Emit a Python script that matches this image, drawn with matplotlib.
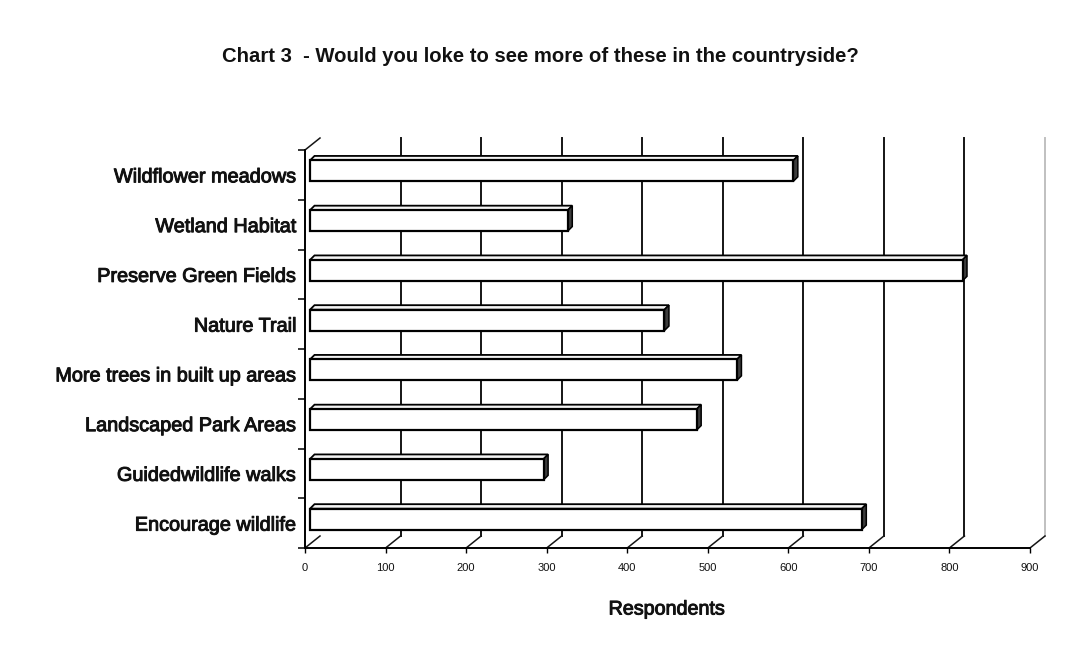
import matplotlib
matplotlib.use("Agg")
import matplotlib.pyplot as plt
import matplotlib.patheffects as pe
from matplotlib.patches import Polygon

plt.rcParams["font.family"] = ["Liberation Sans", "DejaVu Sans"]

# --- data -------------------------------------------------------------
categories = [
    "Wildflower meadows",
    "Wetland Habitat",
    "Preserve Green Fields",
    "Nature Trail",
    "More trees in built up areas",
    "Landscaped Park Areas",
    "Guidedwildlife walks",
    "Encourage wildlife",
]
respondents = [600, 320, 810, 440, 530, 480, 290, 685]
x_ticks = [0, 100, 200, 300, 400, 500, 600, 700, 800, 900]
title = "Chart 3  - Would you loke to see more of these in the countryside?"
x_label = "Respondents"

# --- figure / front plane of the 3-D box ---------------------------------
W, H = 1078, 648
fig = plt.figure(figsize=(W / 100, H / 100), dpi=100)
fig.patch.set_facecolor("white")

left_px, right_px, top_px, bottom_px = 305, 1030, 150, 548
ax = fig.add_axes([left_px / W, 1 - bottom_px / H,
                   (right_px - left_px) / W, (bottom_px - top_px) / H])
n = len(categories)
ax.set_xlim(x_ticks[0], x_ticks[-1])
ax.set_ylim(n - 0.5, -0.5)
ax.set_facecolor("none")

ux = (right_px - left_px) / (x_ticks[-1] - x_ticks[0])  # pixels per respondent
uy = (bottom_px - top_px) / n                          # pixels per category


def shift(dx_px, dy_px):
    """Pixel displacement (right, up) expressed in data units."""
    return dx_px / ux, -dy_px / uy


heavy = [pe.withStroke(linewidth=0.7, foreground="#111111")]

# --- back wall gridlines and floor depth ticks ----------------------------
bx, by = shift(15, 12)
y_bot, y_top = n - 0.5, -0.5
for v in x_ticks:
    if v > 0:
        col = "#c0c0c0" if v == x_ticks[-1] else "#151515"
        ax.plot([v + bx, v + bx], [y_bot + by, y_top + by], color=col,
                lw=1.4, clip_on=False, zorder=1)
    ax.plot([v, v + bx], [y_bot, y_bot + by], color="#151515", lw=1.1,
            clip_on=False, zorder=1)
# top edge of the left wall
ax.plot([0, bx], [y_top, y_top + by], color="#151515", lw=1.1,
        clip_on=False, zorder=1)

# --- 3-D bars ---------------------------------------------------------------
fx, fy = shift(5, 4)        # bar front face sits slightly inside the box
ddx, ddy = shift(4.5, 4.5)  # bar depth
h = 0.42
ypos = [i + fy for i in range(n)]
ax.barh(ypos, respondents, left=fx, height=h, color="white",
        edgecolor="black", linewidth=1.6, zorder=4)
for y, v in zip(ypos, respondents):
    top, bot = y - h / 2, y + h / 2
    x0, x1 = fx, fx + v
    ax.add_patch(Polygon([(x0, top), (x1, top), (x1 + ddx, top + ddy),
                          (x0 + ddx, top + ddy)], closed=True,
                         facecolor="#f4f4f4", edgecolor="black", lw=1.3,
                         zorder=3))
    ax.add_patch(Polygon([(x1, top), (x1 + ddx, top + ddy),
                          (x1 + ddx, bot + ddy), (x1, bot)], closed=True,
                         facecolor="#3c3c3c", edgecolor="black", lw=1.1,
                         zorder=3))

# --- axes -------------------------------------------------------------------
for s in ("top", "right"):
    ax.spines[s].set_visible(False)
for s in ("left", "bottom"):
    ax.spines[s].set_linewidth(1.4)
    ax.spines[s].set_color("black")

ax.set_yticks(range(n), categories)
ax.set_yticks([i - 0.5 for i in range(n + 1)], minor=True)
ax.tick_params(axis="y", which="major", length=0, pad=5.8, labelsize=14.3,
               labelcolor="#111111")
ax.tick_params(axis="y", which="minor", length=5, width=1.1, color="black")
for lbl in ax.get_yticklabels():
    lbl.set_path_effects(heavy)

ax.set_xticks(x_ticks)
ax.tick_params(axis="x", which="major", length=3.6, width=1.0, pad=7.5,
               labelsize=8, labelcolor="#111111")

fig.text(540 / W, 1 - 57 / H, title, ha="center", va="center",
         fontsize=14.6, fontweight="bold", color="#111111")
fig.text(667 / W, 1 - 609 / H, x_label, ha="center", va="center",
         fontsize=14.2, color="#111111", path_effects=heavy)

fig.savefig("out.png", dpi=100, facecolor="white")
